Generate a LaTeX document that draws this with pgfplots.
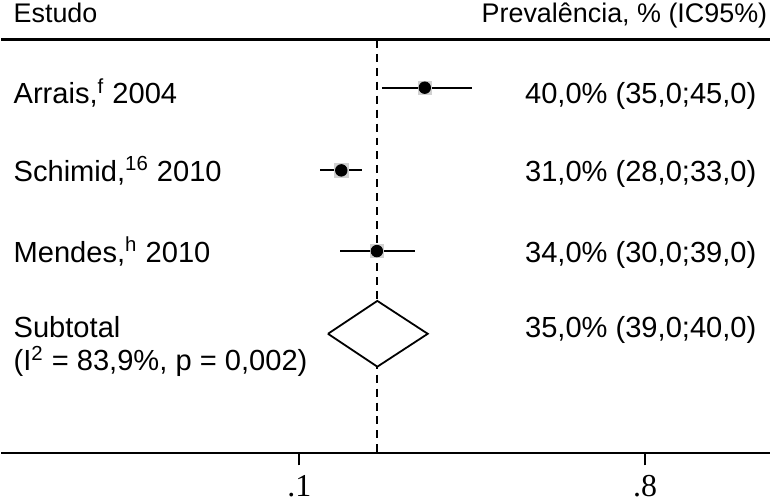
\documentclass[border=0pt]{standalone}
\usepackage{pgfplots}
\pgfplotsset{compat=1.18}
\usepackage{fontspec}
\setmainfont{Liberation Sans}
\newfontfamily\serifnum{Liberation Serif}
\begin{document}
\begin{tikzpicture}[every node/.style={font=\fontsize{14.6}{17}\selectfont}]
\begin{axis}[
  scale only axis,
  width=385.5pt, height=207.5pt,
  xmin=-0.503, xmax=1.052,
  ymin=40, ymax=455, y dir=reverse,
  axis x line*=bottom, axis y line=none,
  axis line style={-, line width=1pt, black},
  xtick={0.1,0.8}, xticklabels={.1,.8},
  tick align=outside, major tick length=6pt,
  tick style={line width=0.9pt, black},
  xticklabel style={font=\serifnum\fontsize{16}{18}\selectfont, yshift=-1.5pt},
  clip=false,
]
\path (axis cs:-0.503,0) rectangle (axis cs:1.052,499);
% top rule
\draw[line width=1.4pt] (axis cs:-0.503,40) -- (axis cs:1.052,40);
% null line
\addplot[black, line width=1pt, dash pattern=on 4pt off 3pt] coordinates {(0.258,40) (0.258,455)};
% confidence intervals
\addplot[black, line width=1pt, mark=none] coordinates {(0.267,88) (0.449,88)};
\addplot[black, line width=1pt, mark=none] coordinates {(0.142,171) (0.227,171)};
\addplot[black, line width=1pt, mark=none] coordinates {(0.183,252) (0.334,252)};
% weight boxes
\addplot[only marks, mark=square*, mark size=3.4pt, color=black!18, mark options={fill=black!18, draw=black!18}] coordinates {(0.354,88) (0.185,171) (0.257,252)};
% point estimates
\addplot[only marks, mark=*, mark size=2.9pt, mark options={fill=black, draw=black}] coordinates {(0.354,88) (0.185,171) (0.257,252)};
% diamond
\addplot[black, line width=0.9pt, fill=white] coordinates {(0.158,335) (0.258,302) (0.360,335) (0.258,368) (0.158,335)};
% texts
\node[anchor=base west, inner sep=0pt, font=\fontsize{13.5}{16}\selectfont] at (axis cs:-0.479,23) {Estudo};
\node[anchor=base east, inner sep=0pt, font=\fontsize{13.5}{16}\selectfont] at (axis cs:1.048,23) {Prevalência, \% (IC95\%)};
\node[anchor=base west, inner sep=0pt] at (axis cs:-0.479,104) {Arrais,\textsuperscript{f} 2004};
\node[anchor=base west, inner sep=0pt] at (axis cs:-0.479,182) {Schimid,\textsuperscript{16} 2010};
\node[anchor=base west, inner sep=0pt] at (axis cs:-0.479,263) {Mendes,\textsuperscript{h} 2010};
\node[anchor=base west, inner sep=0pt] at (axis cs:-0.479,339) {Subtotal};
\node[anchor=base west, inner sep=0pt] at (axis cs:-0.479,372) {(I\textsuperscript{2} = 83,9\%, p = 0,002)};
\node[anchor=base east, inner sep=0pt] at (axis cs:1.026,104) {40,0\% (35,0;45,0)};
\node[anchor=base east, inner sep=0pt] at (axis cs:1.026,182) {31,0\% (28,0;33,0)};
\node[anchor=base east, inner sep=0pt] at (axis cs:1.026,263) {34,0\% (30,0;39,0)};
\node[anchor=base east, inner sep=0pt] at (axis cs:1.026,339) {35,0\% (39,0;40,0)};
\end{axis}
\end{tikzpicture}
\end{document}
